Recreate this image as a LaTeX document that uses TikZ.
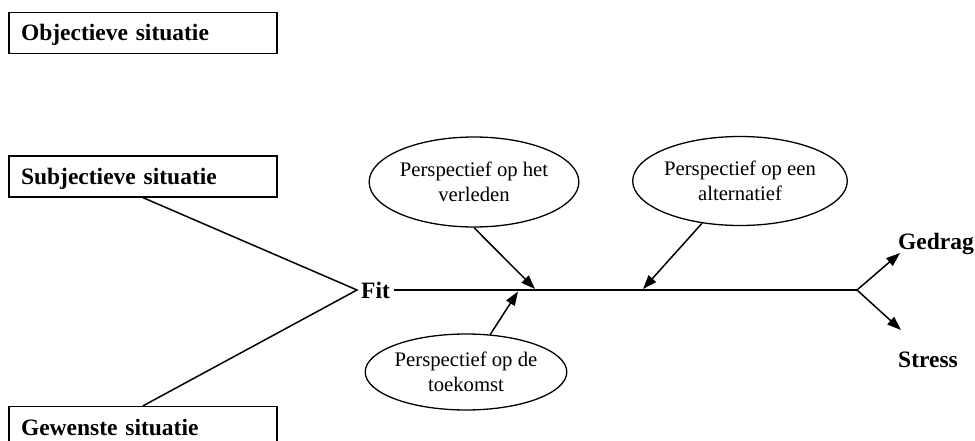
\documentclass[tikz,border=0pt]{standalone}
\usepackage{fontspec}
\setmainfont{Liberation Serif}
\usetikzlibrary{arrows.meta,shapes.geometric}
\tikzset{
  sitbox/.style={draw, line width=1.3pt, rectangle, minimum height=41pt,
    text width=244pt, inner xsep=12pt, inner ysep=0pt, align=left,
    text height=16pt, text depth=0pt,
    font=\fontsize{23.5}{28}\selectfont\bfseries},
  persp/.style={draw, line width=1.3pt, ellipse, inner sep=0pt, align=center,
    font=\fontsize{20.7}{25}\selectfont},
  lbl/.style={inner sep=0pt, font=\fontsize{23.5}{28}\selectfont\bfseries},
  conn/.style={line width=1.5pt},
  arr/.style={line width=1.5pt, -{Triangle[length=14pt,width=10pt]}}
}
\begin{document}
\begin{tikzpicture}[x=1pt,y=1pt]
\useasboundingbox (0,0) rectangle (975,440);
\clip (0,0) rectangle (975,440);
% situation boxes
\node[sitbox] (obj)  at (143,407)   {Objectieve situatie};
\node[sitbox] (subj) at (143,263.5) {Subjectieve situatie};
\node[sitbox] (gew)  at (143,13)    {Gewenste situatie};
% fit
\node[lbl, anchor=west, inner xsep=4pt, text height=16pt, text depth=0pt] (fit) at (357,150) {Fit};
\coordinate (conv) at (357,150);
\coordinate (junc) at (857,150);
% perspectives
\node[persp, minimum width=196pt, minimum height=90pt] (verl) at (474,258) {Perspectief op het\\verleden};
\node[persp, minimum width=214pt, minimum height=89pt] (alt)  at (740,259) {Perspectief op een\\alternatief};
\node[persp, minimum width=183pt, minimum height=76pt] (toek) at (466,68)  {Perspectief op de\\toekomst};
\coordinate (vtip) at (535,151);
\coordinate (atip) at (643,151);
\coordinate (ttip) at (518,148.5);
% outcomes
\node[lbl, anchor=base west] (gedrag) at (898,191) {Gedrag};
\node[lbl, anchor=base west] (stress) at (898,73)  {Stress};
\coordinate (gtip) at (900,187);
\coordinate (stip) at (901,110);
% connectors
\draw[conn] (subj.south) -- (conv) -- (gew.north);
\draw[conn] (fit.east) -- (junc);
\draw[arr] (verl.south) -- (vtip);
\draw[arr] (alt) -- (atip);
\draw[arr] (toek) -- (ttip);
\draw[arr] (junc) -- (gtip);
\draw[arr] (junc) -- (stip);
\end{tikzpicture}
\end{document}
